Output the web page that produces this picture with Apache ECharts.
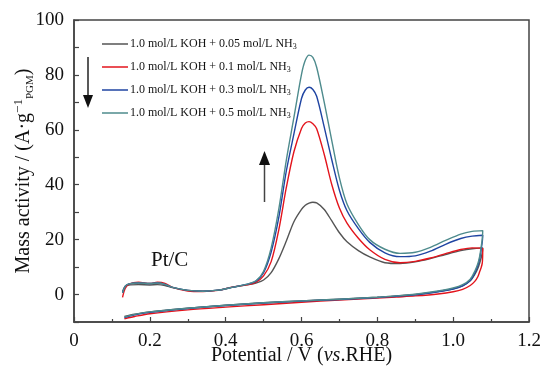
<!DOCTYPE html>
<html>
<head>
<meta charset="utf-8">
<script src="https://cdn.jsdelivr.net/npm/echarts@6/dist/echarts.min.js"></script>
<style>html,body{margin:0;padding:0;background:#fff}#c{width:543px;height:370px}</style>
</head>
<body>
<div id="c"></div>
<script>
// Forward scan potentials (V vs RHE)
var fwdV = [0.128, 0.135, 0.145, 0.17, 0.2, 0.22, 0.24, 0.26, 0.3, 0.34, 0.38, 0.42, 0.46, 0.48, 0.5, 0.52, 0.54, 0.56, 0.58, 0.6, 0.61, 0.62, 0.63, 0.64, 0.66, 0.68, 0.7, 0.72, 0.75, 0.78, 0.82, 0.86, 0.9, 0.94, 0.98, 1.02, 1.05, 1.078];
// Reverse scan potentials
var revV = [1.077, 1.074, 1.07, 1.065, 1.057, 1.045, 1.025, 1.0, 0.96, 0.9, 0.85, 0.8, 0.7, 0.6, 0.5, 0.4, 0.3, 0.2, 0.16, 0.133];

var seriesNames = [
  "1.0 mol/L KOH + 0.05 mol/L NH3",
  "1.0 mol/L KOH + 0.1 mol/L NH3",
  "1.0 mol/L KOH + 0.3 mol/L NH3",
  "1.0 mol/L KOH + 0.5 mol/L NH3"
];

// Mass activity (A g^-1 PGM)
var fwd005 = [1.0, 3.0, 3.5, 3.6, 3.5, 3.6, 3.3, 2.5, 1.5, 1.2, 1.6, 2.7, 3.6, 4.2, 5.3, 8, 13, 19.5, 26.5, 31.0, 32.5, 33.3, 33.6, 33.4, 31, 26.8, 22.5, 19.2, 16, 13.7, 11.6, 11.3, 11.9, 13.1, 14.6, 16.0, 16.7, 17.0];
var rev005 = [15.5, 13.5, 11.5, 9.5, 7.3, 5.0, 3.2, 2.1, 1.1, 0.0, -0.5, -1.0, -1.7, -2.3, -3.0, -3.9, -5.0, -6.3, -7.2, -8.0];

var fwd01 = [-1.0, 2.2, 3.8, 4.5, 4.0, 4.5, 4.1, 2.6, 1.3, 1.1, 1.5, 2.8, 3.6, 4.5, 6.8, 12, 23.5, 39, 52, 60.5, 62.5, 63, 62.2, 60.4, 51, 40, 31.5, 26, 20.5, 16.3, 12.8, 11.6, 12.1, 13.3, 14.9, 16.4, 17.0, 16.8];
var rev01 = [11.7, 9.9, 8.4, 6.5, 4.8, 3.3, 1.9, 1.0, 0.2, -0.5, -0.9, -1.3, -2.0, -2.8, -3.7, -4.6, -5.6, -7.0, -8.0, -8.8];

var fwd03 = [0.6, 3.0, 3.9, 4.2, 4.0, 4.2, 3.7, 2.6, 1.5, 1.2, 1.6, 2.7, 3.9, 4.9, 8, 15.5, 28, 45, 58.5, 71.4, 74.5, 75.5, 74.7, 72.2, 61, 49, 38, 30.5, 24, 19, 15.2, 13.8, 14.1, 15.8, 18.3, 20.4, 21.3, 21.6];
var rev03 = [19.5, 16.5, 13.2, 10.5, 7.8, 5.1, 3.2, 2.0, 1.0, -0.1, -0.6, -1.1, -1.8, -2.4, -3.1, -4.0, -5.1, -6.5, -7.4, -8.4];

var fwd05 = [0.6, 3.0, 3.9, 4.2, 4.0, 4.2, 3.7, 2.6, 1.5, 1.2, 1.6, 2.7, 3.9, 5.0, 8.5, 17, 31, 49, 64.5, 80.2, 85.3, 87.2, 86.4, 82.8, 70, 56, 42.5, 33, 25.5, 20, 16.5, 15.0, 15.4, 17.2, 19.7, 22, 23, 23.3];
var rev05 = [20.5, 17.5, 14.0, 11.2, 8.5, 5.6, 3.6, 2.4, 1.3, 0.1, -0.5, -1.0, -1.7, -2.3, -3.0, -3.9, -5.0, -6.3, -7.2, -8.2];

var colors = ["#555555", "#e3141c", "#1f44a2", "#4e8b8d"];

function loop(f, r) {
  var d = fwdV.map(function (v, i) { return [v, f[i]]; });
  return d.concat(revV.map(function (v, i) { return [v, r[i]]; }));
}
var allData = [loop(fwd005, rev005), loop(fwd01, rev01), loop(fwd03, rev03), loop(fwd05, rev05)];

var serif = "Liberation Serif";
var chart = echarts.init(document.getElementById("c"), null, { renderer: "canvas" });
var option = {
  animation: false,
  grid: { left: 74, right: 14, top: 20, bottom: 48, containLabel: false, outerBoundsMode: "none",
          show: true, borderColor: "#444", borderWidth: 1.5 },
  legend: {
    orient: "vertical", left: 97, top: 33, itemWidth: 26, itemHeight: 1.5, itemGap: 10,
    icon: "rect",
    data: seriesNames,
    formatter: function (n) { return "{a|" + n.replace("NH3", "NH") + "}{s|3}"; },
    textStyle: {
      fontFamily: serif, fontSize: 12, color: "#111", padding: [0, 0, 0, -3],
      rich: {
        a: { fontFamily: serif, fontSize: 12, color: "#111", lineHeight: 14 },
        s: { fontFamily: serif, fontSize: 8, color: "#111", lineHeight: 14, verticalAlign: "bottom", padding: [4, 0, 0, 0] }
      }
    }
  },
  xAxis: {
    type: "value", min: 0, max: 1.2, interval: 0.2,
    name: "{a|Potential / V (}{i|vs}{a|.RHE)}",
    nameLocation: "middle", nameGap: 24, nameMoveOverlap: false,
    nameTextStyle: {
      rich: {
        a: { fontFamily: serif, fontSize: 20, color: "#111" },
        i: { fontFamily: serif, fontSize: 20, fontStyle: "italic", color: "#111" }
      }
    },
    axisLine: { show: true, onZero: false, lineStyle: { color: "#444", width: 1.5 } },
    axisTick: { show: true, inside: true, length: 5, lineStyle: { color: "#444", width: 1.2 } },
    minorTick: { show: true, splitNumber: 2, length: 3, lineStyle: { color: "#444", width: 1.2 } },
    splitLine: { show: false },
    axisLabel: {
      fontFamily: serif, fontSize: 19, color: "#111", margin: 10,
      formatter: function (v) { return v === 0 ? "0" : v.toFixed(1); }
    }
  },
  yAxis: {
    type: "value", min: -10, max: 100, interval: 10,
    name: "{a|Mass activity / (A·g}{p|−1}{b|PGM}{a|)}",
    nameLocation: "middle", nameGap: 38, nameRotate: 90, nameMoveOverlap: false,
    nameTextStyle: {
      rich: {
        a: { fontFamily: serif, fontSize: 20, color: "#111", lineHeight: 24 },
        p: { fontFamily: serif, fontSize: 13, color: "#111", lineHeight: 24, verticalAlign: "top", padding: [0, 0, 8, 0] },
        b: { fontFamily: serif, fontSize: 11, color: "#111", lineHeight: 24, verticalAlign: "bottom", padding: [6, 0, 0, 0] }
      }
    },
    axisLine: { show: true, onZero: false, lineStyle: { color: "#444", width: 1.5 } },
    axisTick: { show: true, inside: true, length: 5, lineStyle: { color: "#444", width: 1.2 } },
    splitLine: { show: false },
    axisLabel: {
      fontFamily: serif, fontSize: 19, color: "#111", margin: 10,
      formatter: function (v) { return (Math.round(v) % 20 === 0) ? String(Math.round(v)) : ""; }
    }
  },
  graphic: [
    { type: "line", shape: { x1: 88, y1: 57, x2: 88, y2: 97 }, style: { stroke: "#222", lineWidth: 1.5 } },
    { type: "polygon", shape: { points: [[83, 95], [93, 95], [88, 108]] }, style: { fill: "#111" } },
    { type: "line", shape: { x1: 264.5, y1: 202, x2: 264.5, y2: 162 }, style: { stroke: "#444", lineWidth: 1.5 } },
    { type: "polygon", shape: { points: [[259, 165], [270, 165], [264.5, 151]] }, style: { fill: "#111" } },
    { type: "text", left: 151, top: 250, style: { text: "Pt/C", font: "21px 'Liberation Serif'", fill: "#111" } }
  ],
  series: allData.map(function (d, i) {
    return {
      name: seriesNames[i], type: "line", data: d, showSymbol: false, symbol: "none",
      smooth: 0.3, lineStyle: { color: colors[i], width: 1.4 }, itemStyle: { color: colors[i] }, z: 2 + i
    };
  })
};
chart.setOption(option);
</script>
</body>
</html>
